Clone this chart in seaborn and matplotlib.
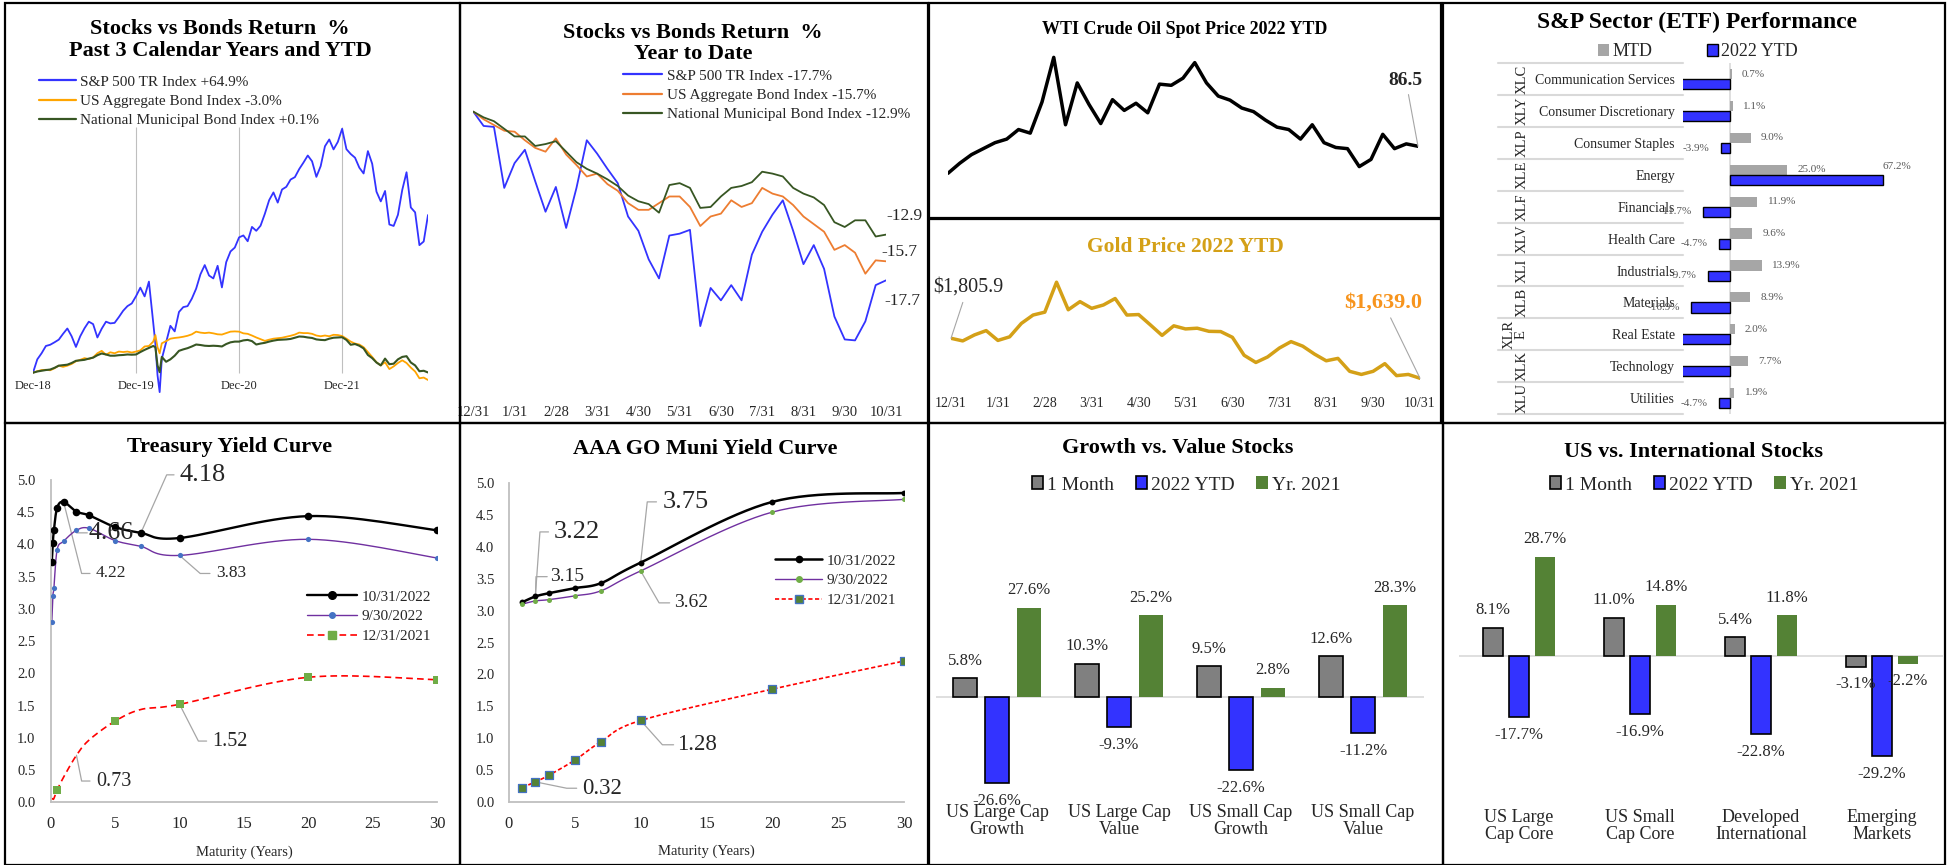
import numpy as np
import pandas as pd
import matplotlib.pyplot as plt
import seaborn as sns
from matplotlib.lines import Line2D
from matplotlib.patches import Patch, Rectangle
from matplotlib.transforms import blended_transform_factory

# ---------------------------------------------
# Stocks vs Bonds, 3 calendar years + YTD (cumulative %, months since Dec-18)
# ---------------------------------------------
p1_months = np.r_[np.arange(0, 14, 0.5), np.arange(14, 15, 0.25), np.arange(15, 46.01, 0.5)]
p1_spx = [0, 5.5, 8.0, 11.0, 11.5, 12.5, 13.6, 16.0, 18.2, 15.0, 10.6, 15.0, 18.3, 21.0,
          20.0, 14.5, 18.1, 21.0, 20.3, 20.5, 22.9, 25.5, 27.4, 28.5, 31.5, 35.0, 31.4, 37.5,
          20.6, 12.0, -1.0, -8.0,
          5.7, 12.5, 19.3, 17.0, 25.0, 27.0, 27.4, 30.5, 34.6, 40.5,
          44.3, 40.0, 38.8, 44.0, 35.1, 45.5, 49.9, 51.5, 55.7, 56.5,
          54.1, 60.0, 58.4, 60.5, 65.4, 71.0, 74.2, 70.0, 75.4, 76.5,
          79.5, 80.5, 83.8, 86.5, 89.4, 87.0, 80.6, 85.0, 93.2, 96.0,
          91.9, 95.0, 100.4, 92.0, 90.0, 88.5, 84.4, 82.0, 91.2, 86.0,
          74.5, 70.5, 74.8, 61.0, 60.4, 65.0, 75.2, 82.5, 68.0, 66.0,
          52.5, 54.0, 64.9]
p1_agg = [0, 0.6, 1.1, 1.2, 1.0, 1.8, 2.9, 2.4, 2.9, 3.6, 4.7, 5.3, 6.0, 5.6,
          6.3, 8.0, 9.0, 7.4, 8.4, 8.0, 8.7, 8.5, 8.7, 8.3, 8.7, 9.2, 10.8, 11.0,
          12.8, 15.5, 10.5, 8.0,
          12.1, 13.0, 14.0, 14.3, 14.5, 14.8, 15.2, 15.8, 16.9, 16.5,
          16.3, 16.5, 16.2, 15.8, 15.7, 16.3, 16.9, 17.0, 16.9, 16.2,
          16.0, 15.3, 14.5, 13.8, 13.1, 13.6, 14.0, 14.2, 14.4, 14.8,
          15.2, 15.7, 16.5, 16.3, 16.3, 16.0, 15.3, 15.0, 15.3, 15.0,
          15.6, 15.5, 15.1, 14.0, 12.8, 12.0, 11.6, 10.5, 8.5, 6.5,
          4.3, 3.0, 4.3, 1.5, 2.6, 4.0, 5.1, 4.0, 2.1, 0.5,
          -2.3, -2.0, -3.0]
p1_muni = [0, 0.5, 0.8, 1.1, 1.3, 2.0, 2.9, 3.1, 3.3, 4.0, 4.9, 5.1, 5.3, 5.8,
           6.2, 7.2, 7.9, 7.5, 7.0, 7.0, 7.2, 7.3, 7.5, 7.4, 7.5, 8.5, 9.4, 10.2,
           11.0, 10.5, 3.0, 0.2,
           6.5, 4.5, 5.5, 7.0, 9.0, 9.6, 10.1, 10.8, 11.6, 11.4,
           11.1, 11.0, 11.1, 11.0, 10.8, 11.8, 12.5, 12.8, 12.8, 13.3,
           13.5, 13.0, 11.6, 12.0, 12.3, 12.8, 13.2, 13.5, 13.6, 13.7,
           13.9, 14.4, 14.9, 14.8, 14.5, 14.3, 13.7, 13.5, 13.4, 14.0,
           14.4, 14.5, 14.6, 13.5, 11.5, 11.8, 11.1, 10.0, 7.3, 6.0,
           4.2, 3.0, 5.8, 3.5, 3.7, 5.5, 6.5, 6.8, 4.2, 3.0,
           0.6, 0.8, 0.1]
p1_ticks = [0, 12, 24, 36]
p1_ticklabels = ["Dec-18", "Dec-19", "Dec-20", "Dec-21"]
p1_names = ["S&P 500 TR Index +64.9%", "US Aggregate Bond Index -3.0%",
            "National Municipal Bond Index +0.1%"]

# ---------------------------------------------
# 2022 YTD series (months since 12/31, quarter-month steps)
# ---------------------------------------------
ytd_x = np.arange(0, 10.01, 0.25)
ytd_spx = [0, -1.5, -1.6, -8.0, -5.4, -4.0, -7.3, -10.5, -7.9, -12.2, -8.0,
           -3.0, -4.4, -6.0, -7.5, -11.0, -12.5, -15.5, -17.5, -13.0, -12.8,
           -12.4, -22.5, -18.5, -19.8, -18.2, -19.8, -15.0, -12.6, -10.8, -9.3,
           -12.5, -16.0, -14.0, -16.5, -21.5, -23.9, -24.0, -22.0, -18.2, -17.7]
ytd_agg = [0, -0.8, -1.4, -2.0, -2.1, -3.0, -3.8, -4.2, -2.8, -4.5, -5.6,
           -6.8, -6.5, -7.6, -8.3, -9.6, -10.3, -10.3, -9.6, -8.9, -8.9,
           -10.0, -12.0, -11.0, -10.7, -9.3, -10.0, -9.6, -8.0, -8.6, -8.9,
           -9.8, -11.0, -11.8, -12.6, -14.5, -14.0, -14.8, -17.0, -15.6, -15.7]
ytd_muni = [0, -0.6, -1.0, -1.8, -2.6, -2.6, -3.6, -3.4, -3.1, -4.2, -5.3,
            -6.0, -6.5, -7.1, -7.8, -8.8, -9.4, -9.7, -10.6, -7.7, -7.5,
            -8.0, -10.1, -10.0, -8.9, -8.0, -7.8, -7.4, -6.3, -6.5, -6.8,
            -8.0, -8.6, -9.0, -9.8, -11.6, -12.1, -11.4, -11.4, -13.1, -12.9]
ytd_names = ["S&P 500 TR Index -17.7%", "US Aggregate Bond Index -15.7%",
             "National Municipal Bond Index -12.9%"]
month_labels = ["12/31", "1/31", "2/28", "3/31", "4/30", "5/31", "6/30",
                "7/31", "8/31", "9/30", "10/31"]

wti = [75.2, 79.4, 83.0, 85.5, 88.0, 89.5, 93.5, 92.0, 105.0, 123.7, 95.5,
       113.0, 104.0, 96.0, 106.0, 101.5, 104.5, 100.5, 112.5, 112.0, 115.0,
       121.5, 113.0, 107.5, 105.8, 102.5, 101.0, 97.5, 94.5, 93.5, 89.5,
       95.5, 88.0, 86.0, 85.5, 78.0, 81.0, 91.5, 85.5, 87.5, 86.5]
gold = [1805.9, 1795, 1820, 1838, 1797, 1812, 1868, 1903, 1915, 2040, 1925,
        1959, 1931, 1945, 1972, 1903, 1905, 1862, 1818, 1858, 1845,
        1848, 1835, 1834, 1810, 1735, 1705, 1728, 1765, 1792, 1773,
        1740, 1712, 1722, 1668, 1655, 1668, 1700, 1650, 1655, 1639.0]

# ---------------------------------------------
# S&P sector ETFs
# ---------------------------------------------
sectors = ["Communication Services", "Consumer Discretionary", "Consumer Staples",
           "Energy", "Financials", "Health Care", "Industrials", "Materials",
           "Real Estate", "Technology", "Utilities"]
tickers = ["XLC", "XLY", "XLP", "XLE", "XLF", "XLV", "XLI", "XLB", "XLRE", "XLK", "XLU"]
sec_mtd = [0.7, 1.1, 9.0, 25.0, 11.9, 9.6, 13.9, 8.9, 2.0, 7.7, 1.9]
sec_ytd = [-39.8, -30.6, -3.9, 67.2, -11.7, -4.7, -9.7, -16.9, -27.6, -27.9, -4.7]

# ---------------------------------------------
# Yield curves
# ---------------------------------------------
curve_dates = ["10/31/2022", "9/30/2022", "12/31/2021"]
tsy_mat = [1 / 12, 2 / 12, 3 / 12, 0.5, 1, 2, 3, 5, 7, 10, 20, 30]
tsy_oct = [3.73, 4.03, 4.22, 4.57, 4.66, 4.51, 4.45, 4.27, 4.18, 4.10, 4.44, 4.22]
tsy_sep = [2.79, 3.20, 3.33, 3.92, 4.05, 4.22, 4.25, 4.06, 3.97, 3.83, 4.08, 3.79]
tsy_dec = [0.06, 0.05, 0.06, 0.19, 0.39, 0.73, 0.97, 1.26, 1.44, 1.52, 1.94, 1.90]
tsy_dec_marked = [3, 7, 9, 10, 11]
muni_mat = [1, 2, 3, 5, 7, 10, 20, 30]
muni_oct = [3.13, 3.22, 3.27, 3.35, 3.43, 3.75, 4.70, 4.84]
muni_sep = [3.10, 3.15, 3.17, 3.23, 3.31, 3.62, 4.54, 4.74]
muni_dec = [0.23, 0.32, 0.42, 0.66, 0.95, 1.28, 1.77, 2.21]

# ---------------------------------------------
# Growth vs value / US vs international
# ---------------------------------------------
bar_series = ["1 Month", "2022 YTD", "Yr. 2021"]
gv_cats = ["US Large Cap\nGrowth", "US Large Cap\nValue", "US Small Cap\nGrowth", "US Small Cap\nValue"]
gv_1m = [5.8, 10.3, 9.5, 12.6]
gv_ytd = [-26.6, -9.3, -22.6, -11.2]
gv_2021 = [27.6, 25.2, 2.8, 28.3]
intl_cats = ["US Large\nCap Core", "US Small\nCap Core", "Developed\nInternational", "Emerging\nMarkets"]
intl_1m = [8.1, 11.0, 5.4, -3.1]
intl_ytd = [-17.7, -16.9, -22.8, -29.2]
intl_2021 = [28.7, 14.8, 11.8, -2.2]

# ---------------------------------------------
# style / layout helpers
# ---------------------------------------------
sns.set_theme(style="white")
plt.rcParams["font.family"] = ["Liberation Serif", "DejaVu Serif"]
plt.rcParams["axes.facecolor"] = "none"

W, H = 1948, 865
fig = plt.figure(figsize=(W / 100, H / 100), dpi=100)
GREY = "#A6A6A6"
BLUE = "#3333FF"


def box(x0, y0, x1, y1):
    return [x0 / W, 1 - y1 / H, (x1 - x0) / W, (y1 - y0) / H]


def fig_title(x, y, s, size=16, color="black", **kw):
    fig.text(x / W, 1 - y / H, s, ha="center", va="center", fontsize=size,
             fontweight="bold", color=color, **kw)


def bare(ax):
    for s in ax.spines.values():
        s.set_visible(False)
    ax.set_xlabel("")
    ax.set_ylabel("")


def smooth(x, y, kx, ky, n=16):
    # Excel-style smoothed line (Catmull-Rom through the points, in screen-like units)
    pts = np.column_stack([np.asarray(x, float) * kx, np.asarray(y, float) * ky])
    pts = np.vstack([pts[:1], pts, pts[-1:]])
    t = np.linspace(0, 1, n, endpoint=False)[:, None]
    segs = []
    for i in range(1, len(pts) - 2):
        p0, p1, p2, p3 = pts[i - 1], pts[i], pts[i + 1], pts[i + 2]
        segs.append(0.5 * (2 * p1 + (p2 - p0) * t + (2 * p0 - 5 * p1 + 4 * p2 - p3) * t ** 2
                           + (3 * p1 - p0 - 3 * p2 + p3) * t ** 3))
    segs.append(pts[-2:-1])
    out = np.vstack(segs)
    return out[:, 0] / kx, out[:, 1] / ky


def callout(ax, x0, y0, kx, ky, hx, tx, text, size):
    ax.plot([x0, kx, hx], [y0, ky, ky], color=GREY, lw=0.9, clip_on=False, zorder=1)
    ax.text(tx, ky, text, fontsize=size, ha="left", va="center", clip_on=False, zorder=4)


def line_legend(ax, colors, names, x, y, size=11, hl=2.4, lw=1.6):
    handles = [Line2D([], [], color=c, lw=lw) for c in colors]
    ax.legend(handles, names, loc="upper left", bbox_to_anchor=(x / W, 1 - y / H),
              bbox_transform=fig.transFigure, frameon=False, fontsize=size,
              handlelength=hl, handletextpad=0.3, labelspacing=0.37,
              borderpad=0, borderaxespad=0)


# ---------------------------------------------
# 1) Stocks vs Bonds, 3 years
# ---------------------------------------------
ax = fig.add_axes(box(33, 127.3, 428, 397))
p1_colors = [BLUE, "#FFA500", "#375623"]
for vals, col, lw in zip([p1_spx, p1_agg, p1_muni], p1_colors, [1.3, 1.3, 1.5]):
    sns.lineplot(x=p1_months, y=vals, ax=ax, color=col, linewidth=lw, estimator=None, sort=False)
ax.vlines(p1_ticks[1:], 0, 101, colors="#BFBFBF", lw=0.8, zorder=0)
ax.set_xlim(0, 46)
ax.set_ylim(-10, 101)
ax.set_xticks(p1_ticks, p1_ticklabels)
ax.set_yticks([])
ax.tick_params(axis="x", length=0, pad=-12, labelsize=9)
bare(ax)
line_legend(ax, p1_colors, p1_names, 39, 75)
fig_title(220, 40, "Stocks vs Bonds Return  %\nPast 3 Calendar Years and YTD")

# ---------------------------------------------
# 2) Stocks vs Bonds, YTD
# ---------------------------------------------
ax = fig.add_axes(box(473.3, 92.6, 886, 405.2))
p2_colors = [BLUE, "#ED7D31", "#375623"]
for vals, col in zip([ytd_spx, ytd_agg, ytd_muni], p2_colors):
    sns.lineplot(x=ytd_x, y=vals, ax=ax, color=col, linewidth=1.3, estimator=None, sort=False)
ax.set_xlim(0, 10)
ax.set_ylim(-30.8, 2)
ax.set_xticks(range(len(month_labels)), month_labels)
ax.set_yticks([])
ax.tick_params(axis="x", length=0, pad=0.5, labelsize=10.5)
bare(ax)
for vals, (tx, ty) in zip([ytd_muni, ytd_agg, ytd_spx], [(10.0, -11.0), (9.9, -14.75), (9.96, -19.9)]):
    ax.text(tx, ty, f"{vals[-1]:.1f}", fontsize=12.5, ha="left", va="center", clip_on=False)
line_legend(ax, p2_colors, ytd_names, 623, 69, hl=2.55)
fig_title(693, 43.5, "Stocks vs Bonds Return  %\nYear to Date", linespacing=1.05)

# ---------------------------------------------
# 3) WTI crude
# ---------------------------------------------
ax = fig.add_axes(box(948, 42.3, 1418, 185.7))
sns.lineplot(x=ytd_x, y=wti, ax=ax, color="black", linewidth=2.5, estimator=None, sort=False)
ax.set_xlim(0, 10)
ax.set_ylim(70, 130)
ax.set_xticks([])
ax.set_yticks([])
bare(ax)
ax.annotate(f"{wti[-1]:.1f}", xy=(10, wti[-1]), xytext=(9.74, 114.2), ha="center", va="center",
            fontsize=14, fontweight="bold",
            arrowprops=dict(arrowstyle="-", color=GREY, lw=0.8, shrinkA=2, shrinkB=0))
fig_title(1185, 30, "WTI Crude Oil Spot Price 2022 YTD", size=13)

# ---------------------------------------------
# 4) Gold
# ---------------------------------------------
GOLD = "#D4A017"
ax = fig.add_axes(box(951, 270, 1420, 396))
sns.lineplot(x=ytd_x, y=gold, ax=ax, color=GOLD, linewidth=2.5, estimator=None, sort=False)
ax.set_xlim(0, 10)
ax.set_ylim(1565, 2091)
ax.set_xticks(range(len(month_labels)), month_labels)
ax.set_yticks([])
ax.tick_params(axis="x", length=0, pad=0.5, labelsize=10)
bare(ax)
ax.annotate(f"${gold[0]:,.1f}", xy=(0, gold[0]), xytext=(0.36, 2020), ha="center", va="center",
            fontsize=14.5, arrowprops=dict(arrowstyle="-", color=GREY, lw=0.8, shrinkA=2, shrinkB=0))
ax.annotate(f"${gold[-1]:,.1f}", xy=(10, gold[-1]), xytext=(9.21, 1957), ha="center", va="center",
            fontsize=16, fontweight="bold", color="#F7941D",
            arrowprops=dict(arrowstyle="-", color=GREY, lw=0.8, shrinkA=2, shrinkB=0))
fig_title(1185, 247, "Gold Price 2022 YTD", size=15.5, color=GOLD)

# ---------------------------------------------
# 5) S&P sector performance
# ---------------------------------------------
sec_df = pd.DataFrame({
    "sector": sectors * 2,
    "period": ["MTD"] * len(sectors) + ["2022 YTD"] * len(sectors),
    "value": sec_mtd + sec_ytd,
})
ax = fig.add_axes(box(1683, 63.3, 1920, 414))
sns.barplot(data=sec_df, y="sector", x="value", hue="period", orient="h", order=sectors,
            hue_order=["MTD", "2022 YTD"], palette=[GREY, BLUE], width=0.64, saturation=1,
            errorbar=None, legend=False, ax=ax)
for p in ax.containers[0]:
    p.set_linewidth(0)
for p in ax.containers[1]:
    p.set_edgecolor("black")
    p.set_linewidth(1.0)
xmin = -20.6
ax.set_xlim(xmin, 83.2)
ax.set_ylim(10.5, -0.5)
ax.axvline(0, color="#D9D9D9", lw=1.2, zorder=0)
ax.set_xticks([])
ax.tick_params(axis="y", length=0, pad=5.8, labelsize=10)
bare(ax)
tr_fig = blended_transform_factory(fig.transFigure, ax.transData)
tr_ax = blended_transform_factory(ax.transAxes, ax.transData)
for i, t in enumerate(tickers):
    lab = t if len(t) <= 3 else t[:3] + "\n" + t[3:]
    xpos = 1522 if len(t) <= 3 else 1515
    ax.text(xpos / W, i, lab, transform=tr_fig, rotation=90, ha="center", va="center",
            fontsize=10.5, linespacing=0.95)
for yb in np.arange(-0.5, len(sectors), 1.0):
    ax.plot([(1498 - 1683) / 237, 0], [yb, yb], transform=tr_ax, color="#D9D9D9", lw=1.5, clip_on=False)
for i, (m, y) in enumerate(zip(sec_mtd, sec_ytd)):
    ax.annotate(f"{m:.1f}%", (m, i - 0.16), xytext=(7.5, 0), textcoords="offset points",
                ha="left", va="center", fontsize=8, color="#595959")
    if y >= 0:
        ax.annotate(f"{y:.1f}%", (y, i + 0.16), xytext=(-1, 10), textcoords="offset points",
                    ha="left", va="center", fontsize=8, color="#595959")
    elif y > xmin:
        ax.annotate(f"{y:.1f}%", (y, i + 0.16), xytext=(-8.5, 0), textcoords="offset points",
                    ha="right", va="center", fontsize=8, color="#595959")
ax.legend([Patch(fc=GREY, ec="none"), Patch(fc=BLUE, ec="black", lw=1)], ["MTD", "2022 YTD"],
          loc="center", ncol=2, bbox_to_anchor=(1698 / W, 1 - 52 / H), bbox_transform=fig.transFigure,
          frameon=False, fontsize=13, handlelength=0.6, handleheight=0.6, handletextpad=0.2,
          columnspacing=3.0)
fig_title(1697, 22, "S&P Sector (ETF) Performance", size=17)


# ---------------------------------------------
# 6) & 7) yield curves
# ---------------------------------------------
def curve_axes(ax, ypad):
    ax.set_xlim(0, 30)
    ax.set_ylim(0, 5)
    ax.set_xticks(range(0, 31, 5))
    ax.set_yticks(np.arange(0, 5.01, 0.5), [f"{v:.1f}" for v in np.arange(0, 5.01, 0.5)])
    for s in ["top", "right"]:
        ax.spines[s].set_visible(False)
    for s in ["left", "bottom"]:
        ax.spines[s].set_color("#BFBFBF")
        ax.spines[s].set_linewidth(1.3)
    ax.tick_params(axis="x", direction="in", length=4, width=1, color="#BFBFBF", labelsize=12, pad=10)
    ax.tick_params(axis="y", length=0, labelsize=10.5, pad=ypad)
    ax.set_ylabel("")
    ax.set_xlabel("Maturity (Years)", fontsize=10.5)
    ax.xaxis.set_label_coords(0.5, -0.133)


ax = fig.add_axes(box(50.7, 480, 437.3, 802.3))
sx, sy = smooth(tsy_mat, tsy_oct, 12.9, 64.5)
sns.lineplot(x=sx, y=sy, ax=ax, color="black", linewidth=1.7, estimator=None, sort=False)
sns.scatterplot(x=tsy_mat, y=tsy_oct, ax=ax, color="black", s=30, edgecolor="black", linewidth=0, zorder=3)
sx, sy = smooth(tsy_mat, tsy_sep, 12.9, 64.5)
sns.lineplot(x=sx, y=sy, ax=ax, color="#7030A0", linewidth=1.0, estimator=None, sort=False)
sns.scatterplot(x=tsy_mat, y=tsy_sep, ax=ax, color="#4472C4", s=14, edgecolor="#4472C4", linewidth=0, zorder=3)
sx, sy = smooth(tsy_mat, tsy_dec, 12.9, 64.5)
sns.lineplot(x=sx, y=sy, ax=ax, color="red", linewidth=1.2, linestyle=(0, (4, 2.5)), estimator=None, sort=False)
sns.scatterplot(x=[tsy_mat[i] for i in tsy_dec_marked], y=[tsy_dec[i] for i in tsy_dec_marked], ax=ax,
                color="#70AD47", marker="s", s=30, edgecolor="#70AD47", linewidth=0, zorder=3)
curve_axes(ax, 11)
callout(ax, tsy_mat[8], tsy_oct[8], 9.0, 5.08, 9.57, 10.03, f"{tsy_oct[8]:.2f}", 19)
callout(ax, tsy_mat[5], tsy_sep[5], 2.02, 4.18, 2.84, 2.92, f"{tsy_oct[4]:.2f}", 18.5)
callout(ax, tsy_mat[4], tsy_oct[4], 2.4, 3.55, 3.05, 3.52, f"{tsy_sep[5]:.2f}", 12.5)
callout(ax, tsy_mat[9], tsy_sep[9], 11.6, 3.55, 12.36, 12.83, f"{tsy_sep[9]:.2f}", 12.5)
callout(ax, tsy_mat[9], tsy_dec[9], 11.46, 0.95, 12.1, 12.54, f"{tsy_dec[9]:.2f}", 14.5)
callout(ax, tsy_mat[5], tsy_dec[5], 2.4, 0.33, 3.05, 3.57, f"{tsy_dec[5]:.2f}", 14.5)
tsy_handles = [
    Line2D([], [], color="black", lw=1.7, marker="o", ms=5.5, mfc="black", mec="black"),
    Line2D([], [], color="#7030A0", lw=1.0, marker="o", ms=4, mfc="#4472C4", mec="#4472C4"),
    Line2D([], [], color="red", lw=1.2, ls=(0, (4, 2.5)), marker="s", ms=5.5, mfc="#70AD47", mec="#70AD47"),
]
ax.legend(tsy_handles, curve_dates, loc="upper left", bbox_to_anchor=(307 / W, 1 - 590 / H),
          bbox_transform=fig.transFigure, frameon=False, fontsize=11, handlelength=3.3,
          handletextpad=0.3, labelspacing=0.4, borderpad=0, borderaxespad=0)
fig_title(230, 447, "Treasury Yield Curve")

ax = fig.add_axes(box(509, 482.7, 904, 802.3))
sx, sy = smooth(muni_mat, muni_oct, 13.2, 64)
sns.lineplot(x=sx, y=sy, ax=ax, color="black", linewidth=1.8, estimator=None, sort=False)
sns.scatterplot(x=muni_mat, y=muni_oct, ax=ax, color="black", s=18, edgecolor="black", linewidth=0, zorder=3)
sx, sy = smooth(muni_mat, muni_sep, 13.2, 64)
sns.lineplot(x=sx, y=sy, ax=ax, color="#7030A0", linewidth=1.0, estimator=None, sort=False)
sns.scatterplot(x=muni_mat, y=muni_sep, ax=ax, color="#70AD47", s=13, edgecolor="#70AD47", linewidth=0, zorder=3)
sx, sy = smooth(muni_mat, muni_dec, 13.2, 64)
sns.lineplot(x=sx, y=sy, ax=ax, color="red", linewidth=1.2, linestyle=(0, (2.5, 1.5)), estimator=None, sort=False)
sns.scatterplot(x=muni_mat, y=muni_dec, ax=ax, color="#548235", marker="s", s=32, edgecolor="#4472C4",
                linewidth=0.9, zorder=3)
curve_axes(ax, 10.6)
callout(ax, muni_mat[5], muni_oct[5], 10.5, 4.70, 11.2, 11.65, f"{muni_oct[5]:.2f}", 19)
callout(ax, muni_mat[1], muni_oct[1], 2.35, 4.23, 3.0, 3.37, f"{muni_oct[1]:.2f}", 19)
callout(ax, muni_mat[1], muni_sep[1], 2.05, 3.53, 2.9, 3.11, f"{muni_sep[1]:.2f}", 14)
callout(ax, muni_mat[5], muni_sep[5], 11.4, 3.12, 12.2, 12.53, f"{muni_sep[5]:.2f}", 14)
callout(ax, muni_mat[5], muni_dec[5], 11.65, 0.90, 12.5, 12.73, f"{muni_dec[5]:.2f}", 16.5)
callout(ax, muni_mat[1], muni_dec[1], 4.38, 0.22, 5.14, 5.52, f"{muni_dec[1]:.2f}", 16.5)
muni_handles = [
    Line2D([], [], color="black", lw=1.8, marker="o", ms=4.5, mfc="black", mec="black"),
    Line2D([], [], color="#7030A0", lw=1.0, marker="o", ms=4, mfc="#70AD47", mec="#70AD47"),
    Line2D([], [], color="red", lw=1.2, ls=(0, (2.5, 1.5)), marker="s", ms=6, mfc="#548235", mec="#4472C4"),
]
ax.legend(muni_handles, curve_dates, loc="upper left", bbox_to_anchor=(775 / W, 1 - 554 / H),
          bbox_transform=fig.transFigure, frameon=False, fontsize=11, handlelength=3.1,
          handletextpad=0.3, labelspacing=0.4, borderpad=0, borderaxespad=0)
fig_title(705, 449, "AAA GO Muni Yield Curve")


# ---------------------------------------------
# 8) & 9) grouped bar charts
# ---------------------------------------------
BAR_COLORS = ["#808080", BLUE, "#548235"]


def grouped_bars(rect, cats, series_vals, ylim, width, gap, legend_x, title_xy, title):
    df = pd.DataFrame({
        "category": cats * len(bar_series),
        "series": np.repeat(bar_series, len(cats)),
        "value": sum(series_vals, []),
    })
    ax = fig.add_axes(box(*rect))
    sns.barplot(data=df, x="category", y="value", hue="series", order=cats, hue_order=bar_series,
                palette=BAR_COLORS, width=width, gap=gap, saturation=1, errorbar=None,
                legend=False, ax=ax)
    for cont, ec, vals in zip(ax.containers, ["black", "black", "none"], series_vals):
        for p in cont:
            p.set_edgecolor(ec)
            p.set_linewidth(1.2)
        ax.bar_label(cont, labels=[f"{v:.1f}%" for v in vals], padding=7, fontsize=12)
    ax.axhline(0, color="#D9D9D9", lw=1.2, zorder=0)
    ax.set_xlim(-0.5, len(cats) - 0.5)
    ax.set_ylim(*ylim)
    ax.set_yticks([])
    ax.tick_params(axis="x", length=0, labelsize=13, pad=3)
    for lab in ax.get_xticklabels():
        lab.set_linespacing(1.0)
    bare(ax)
    handles = [Patch(fc=BAR_COLORS[0], ec="black", lw=1.2), Patch(fc=BAR_COLORS[1], ec="black", lw=1.2),
               Patch(fc=BAR_COLORS[2], ec="none")]
    ax.legend(handles, bar_series, loc="center", ncol=3, bbox_to_anchor=(legend_x / W, 1 - 485 / H),
              bbox_transform=fig.transFigure, frameon=False, fontsize=14, handlelength=0.6,
              handleheight=0.6, handletextpad=0.2, columnspacing=1.1)
    fig_title(title_xy[0], title_xy[1], title)


grouped_bars((936, 505, 1424, 800), gv_cats, [gv_1m, gv_ytd, gv_2021], (-31.8, 59.3), 0.78, 0.24,
             1186, (1178, 448), "Growth vs. Value Stocks")
grouped_bars((1458.5, 520, 1942.5, 805), intl_cats, [intl_1m, intl_ytd, intl_2021], (-43.3, 39.5),
             0.645, 0.2, 1704, (1693, 452), "US vs. International Stocks")

# ---------------------------------------------
# panel frames
# ---------------------------------------------
panels = [(5, 3, 460, 423), (460, 3, 928, 423), (929, 3, 1441, 218), (929, 219, 1441, 423),
          (1443, 3, 1945, 423), (5, 423, 460, 865), (460, 423, 928, 865), (929, 423, 1443, 865),
          (1443, 423, 1945, 865)]
for x0, y0, x1, y1 in panels:
    fig.add_artist(Rectangle((x0 / W, 1 - y1 / H), (x1 - x0) / W, (y1 - y0) / H,
                             transform=fig.transFigure, fill=False, ec="black", lw=1.6, zorder=10))

fig.savefig("out.png", dpi=100)
plt.close(fig)
